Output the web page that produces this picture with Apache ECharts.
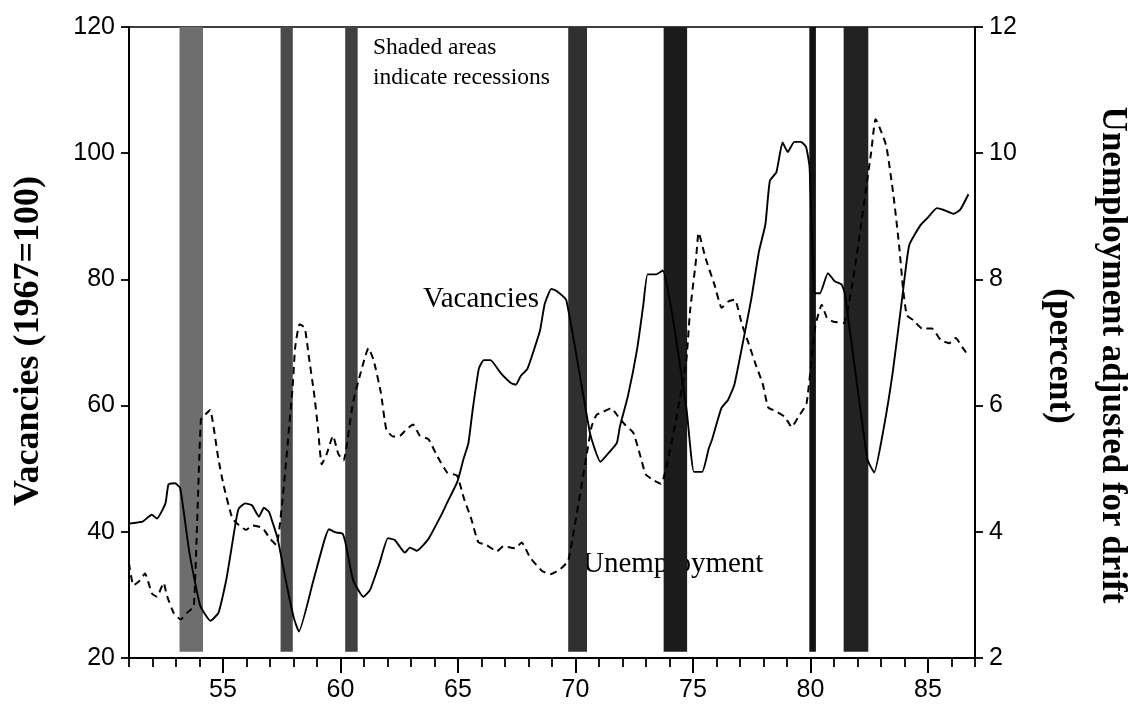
<!DOCTYPE html>
<html>
<head>
<meta charset="utf-8">
<script src="https://cdn.jsdelivr.net/npm/echarts@6/dist/echarts.min.js"></script>
<style>
html,body{margin:0;padding:0;background:#fff;}
#chart{width:1128px;height:720px;}
</style>
</head>
<body>
<div id="chart"></div>
<script>
// ---- data ----
const vacYears = [51.0,51.57,51.97,52.19,52.55,52.68,52.96,53.18,53.57,54.03,54.47,54.81,55.15,55.54,55.67,55.95,56.23,56.53,56.74,56.95,57.1,57.32,57.71,58.01,58.23,58.84,59.31,59.51,59.8,60.09,60.24,60.54,60.97,61.26,61.66,62.02,62.31,62.74,62.95,63.24,63.73,64.28,64.55,64.97,65.24,65.44,65.63,65.89,66.1,66.38,66.81,67.25,67.46,67.67,67.95,68.22,68.49,68.69,68.97,69.18,69.61,70.62,71.06,71.41,71.76,71.89,72.23,72.62,72.88,73.07,73.43,73.71,74.72,75.04,75.39,75.67,75.8,76.21,76.49,76.76,77.16,77.49,77.81,78.08,78.27,78.55,78.81,79.03,79.31,79.59,79.81,79.96,80.18,80.4,80.74,81.03,81.32,81.46,82.42,82.71,83.11,83.5,83.88,84.2,84.68,84.97,85.38,85.67,86.09,86.38,86.72];
const vacValues = [41.3,41.6,42.7,42.1,44.5,47.5,47.7,46.9,36.7,28.3,25.9,27.2,32.6,41.5,43.7,44.5,44.2,42.4,43.8,43.2,41.6,39.0,31.6,26.4,24.2,32.2,38.6,40.4,39.9,39.7,37.8,32.3,29.7,30.8,35.0,39.0,38.7,36.7,37.5,37.0,38.8,42.6,44.7,47.9,51.6,54.0,59.5,65.9,67.2,67.2,65.2,63.6,63.3,64.7,65.8,68.7,71.9,76.1,78.5,78.2,76.7,55.6,51.1,52.5,54.1,56.7,61.5,68.9,75.8,80.8,80.8,81.4,59.5,49.5,49.5,53.2,54.5,59.6,60.9,63.3,70.7,77.1,84.5,88.7,95.6,97.0,101.7,100.2,101.8,101.8,101.0,97.8,77.8,77.8,81.0,79.7,79.2,77.8,51.5,49.4,56.3,65.3,76.4,85.4,88.6,89.7,91.3,91.0,90.4,91.1,93.5];

const unempYears = [51.0,51.19,51.47,51.68,51.98,52.19,52.47,52.62,52.91,53.2,53.48,53.76,54.06,54.28,54.45,54.8,55.03,55.4,55.69,55.98,56.26,56.69,56.98,57.27,57.95,58.07,58.26,58.48,58.64,58.88,59.04,59.2,59.41,59.68,59.91,60.13,60.52,60.85,61.19,61.41,61.72,61.95,62.24,62.53,62.8,63.09,63.38,63.74,64.1,64.54,64.96,65.26,65.56,65.86,66.22,66.65,66.93,67.42,67.71,68.07,68.58,68.93,69.36,69.7,70.68,70.89,71.17,71.52,71.81,72.1,72.46,72.76,72.99,73.35,73.63,74.69,74.87,75.12,75.24,75.54,75.92,76.22,76.5,76.78,77.08,77.38,77.67,77.97,78.2,78.48,78.91,79.2,79.48,79.83,80.2,80.48,80.7,80.98,81.41,82.58,82.77,83.22,83.53,83.77,83.94,84.1,84.39,84.75,85.17,85.54,85.9,86.18,86.47,86.68];
const unempValues = [3.5,3.15,3.23,3.34,3.02,2.97,3.19,2.98,2.71,2.61,2.72,2.82,5.78,5.87,5.93,5.16,4.73,4.21,4.10,4.03,4.10,4.06,3.90,3.79,6.23,6.92,7.29,7.23,6.81,6.18,5.65,5.07,5.23,5.52,5.23,5.13,6.03,6.51,6.91,6.72,6.20,5.62,5.51,5.52,5.62,5.70,5.52,5.47,5.21,4.94,4.89,4.52,4.21,3.84,3.79,3.69,3.77,3.74,3.83,3.59,3.38,3.33,3.41,3.55,5.66,5.85,5.90,5.96,5.83,5.70,5.57,5.20,4.91,4.81,4.76,6.64,7.48,8.28,8.74,8.33,7.91,7.55,7.65,7.68,7.29,6.97,6.65,6.34,5.97,5.92,5.82,5.66,5.82,6.03,7.25,7.60,7.39,7.33,7.31,10.01,10.54,10.12,9.33,8.54,7.85,7.43,7.35,7.22,7.22,7.04,6.99,7.07,6.92,6.81];

const recessionStarts = [53.15,57.45,60.2,69.69,73.75,79.95,81.41];
const recessionEnds   = [54.15,57.97,60.73,70.49,74.75,80.23,82.46];

const xMajorTicks = [55,60,65,70,75,80,85];
const leftTickStep = 20;
const rightTickStep = 2;

// ---- styles ----
const bandColors = ['#6e6e6e','#4a4a4a','#404040','#303030','#1c1c1c','#121212','#222222'];
const tickFont = "'Liberation Sans', Arial, sans-serif";
const serif = "'Liberation Serif', 'Times New Roman', serif";

const chart = echarts.init(document.getElementById('chart'), null, {renderer: 'canvas'});

const bandData = recessionStarts.map((s, i) => [
  {xAxis: s, yAxis: 21, itemStyle: {color: bandColors[i], opacity: 1}},
  {xAxis: recessionEnds[i], yAxis: 120}
]);

const option = {
  animation: false,
  backgroundColor: '#ffffff',
  grid: {left: 129, right: 153, top: 27, bottom: 62, show: true, borderColor: '#000', borderWidth: 1.5, backgroundColor: 'transparent'},
  xAxis: [
    {
      type: 'value', min: 51, max: 87, interval: 1,
      axisLine: {show: true, lineStyle: {color: '#000', width: 2}},
      axisTick: {show: true, inside: false, length: 9, lineStyle: {color: '#000', width: 1.8}},
      axisLabel: {show: true, color: '#000', fontFamily: tickFont, fontSize: 25, margin: 20,
        formatter: v => (xMajorTicks.indexOf(v) >= 0 ? String(v) : '')},
      splitLine: {show: false}
    },
    {
      type: 'value', min: 51, max: 87, position: 'bottom',
      axisLine: {show: false},
      axisTick: {show: true, inside: false, length: 15, customValues: xMajorTicks, lineStyle: {color: '#000', width: 2}},
      axisLabel: {show: false},
      splitLine: {show: false}
    }
  ],
  yAxis: [
    {
      type: 'value', min: 20, max: 120, interval: leftTickStep, position: 'left',
      axisLine: {show: true, lineStyle: {color: '#000', width: 2}},
      axisTick: {show: true, inside: false, length: 8, lineStyle: {color: '#000', width: 1.8}},
      axisLabel: {color: '#000', fontFamily: tickFont, fontSize: 25, margin: 14},
      splitLine: {show: false}
    },
    {
      type: 'value', min: 2, max: 12, interval: rightTickStep, position: 'right',
      axisLine: {show: true, lineStyle: {color: '#000', width: 2}},
      axisTick: {show: true, inside: false, length: 8, lineStyle: {color: '#000', width: 1.8}},
      axisLabel: {color: '#000', fontFamily: tickFont, fontSize: 25, margin: 14},
      splitLine: {show: false}
    }
  ],
  series: [
    {
      name: 'recessions', type: 'line', data: [], z: 1, silent: true,
      markArea: {silent: true, data: bandData}
    },
    {
      name: 'Vacancies', type: 'line', xAxisIndex: 0, yAxisIndex: 0, z: 3,
      showSymbol: false, symbol: 'none', smooth: 0.15,
      lineStyle: {color: '#000', width: 1.9},
      data: vacYears.map((y, i) => [y, vacValues[i]])
    },
    {
      name: 'Unemployment', type: 'line', xAxisIndex: 0, yAxisIndex: 1, z: 3,
      showSymbol: false, symbol: 'none', smooth: 0.15,
      lineStyle: {color: '#000', width: 2, type: [7, 5]},
      data: unempYears.map((y, i) => [y, unempValues[i]])
    }
  ],
  graphic: [
    {type: 'text', z: 0, x: 29, y: 341, rotation: Math.PI / 2,
      style: {text: 'Vacancies (1967=100)', font: 'bold 36px ' + serif, fill: '#000', textAlign: 'center', textVerticalAlign: 'middle'}},
    {type: 'text', z: 0, x: 1112, y: 355, rotation: -Math.PI / 2,
      style: {text: 'Unemployment adjusted for drift', font: 'bold 35px ' + serif, fill: '#000', textAlign: 'center', textVerticalAlign: 'middle'}},
    {type: 'text', z: 0, x: 1059, y: 356, rotation: -Math.PI / 2,
      style: {text: '(percent)', font: 'bold 35px ' + serif, fill: '#000', textAlign: 'center', textVerticalAlign: 'middle'}},
    {type: 'text', z: 0, x: 373, y: 60,
      style: {text: 'Shaded areas', font: '23.5px ' + serif, fill: '#000', textAlign: 'left', textVerticalAlign: 'bottom'}},
    {type: 'text', z: 0, x: 373, y: 90,
      style: {text: 'indicate recessions', font: '23.5px ' + serif, fill: '#000', textAlign: 'left', textVerticalAlign: 'bottom'}},
    {type: 'text', z: 0, x: 423, y: 314,
      style: {text: 'Vacancies', font: '29px ' + serif, fill: '#000', textAlign: 'left', textVerticalAlign: 'bottom'}},
    {type: 'text', z: 0, x: 583, y: 579,
      style: {text: 'Unemployment', font: '29px ' + serif, fill: '#000', textAlign: 'left', textVerticalAlign: 'bottom'}}
  ]
};
chart.setOption(option);
</script>
</body>
</html>
